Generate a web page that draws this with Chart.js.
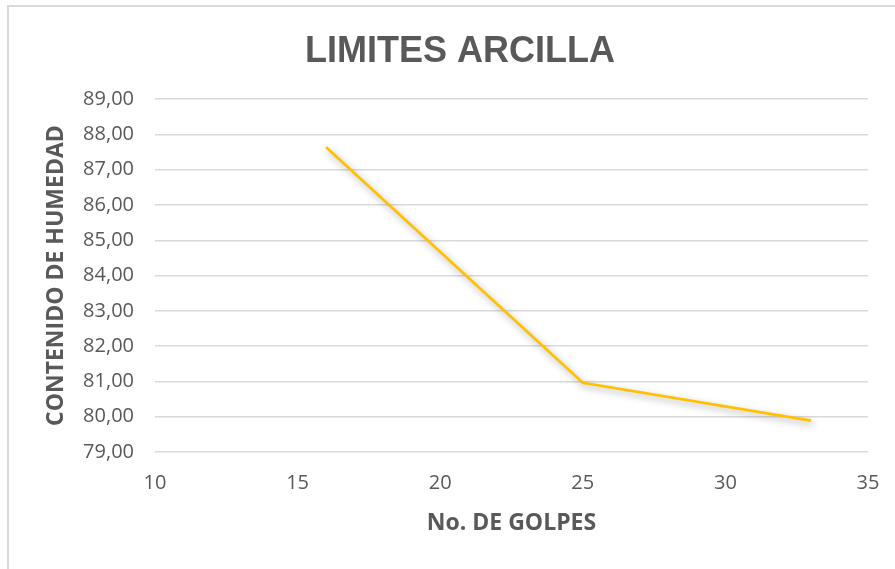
<!DOCTYPE html>
<html>
<head>
<meta charset="utf-8">
<script src="https://cdn.jsdelivr.net/npm/chart.js@4"></script>
<style>
  html, body { margin: 0; padding: 0; background: #ffffff; }
  #wrap { position: relative; width: 895px; height: 569px; }
</style>
</head>
<body>
<div id="wrap"><canvas id="c" width="895" height="569"></canvas></div>
<script>
// ---- data ----
const golpes = [16, 25, 33];
const humedad = [87.64, 80.96, 79.89];
const yTicks = [79, 80, 81, 82, 83, 84, 85, 86, 87, 88, 89];
const xTicks = [10, 15, 20, 25, 30, 35];
const chartTitle = 'LIMITES ARCILLA';
const xTitle = 'No. DE GOLPES';
const yTitle = 'CONTENIDO DE HUMEDAD';

const points = golpes.map((g, i) => ({ x: g, y: humedad[i] }));
const GRAY = '#595959';
const GRID = '#d9d9d9';

const frame = {
  id: 'frame',
  beforeDraw(chart) {
    const ctx = chart.ctx;
    ctx.save();
    ctx.strokeStyle = GRID;
    ctx.lineWidth = 2;
    ctx.beginPath();
    ctx.moveTo(8, 569);
    ctx.lineTo(8, 6);
    ctx.lineTo(895, 6);
    ctx.stroke();
    ctx.restore();
  }
};

const shadow = {
  id: 'shadow',
  beforeDatasetsDraw(chart) {
    const ctx = chart.ctx;
    ctx.save();
    ctx.shadowColor = 'rgba(0,0,0,0.35)';
    ctx.shadowBlur = 7;
    ctx.shadowOffsetX = 2;
    ctx.shadowOffsetY = 3;
  },
  afterDatasetsDraw(chart) {
    chart.ctx.restore();
  }
};

new Chart(document.getElementById('c'), {
  type: 'line',
  data: {
    datasets: [{
      data: points,
      borderColor: '#FFC000',
      borderWidth: 2.7,
      pointRadius: 0,
      pointHoverRadius: 0,
      tension: 0,
      fill: false
    }]
  },
  plugins: [frame, shadow],
  options: {
    responsive: false,
    animation: false,
    layout: { padding: { left: 25, right: 0, top: 0, bottom: 0 } },
    plugins: {
      legend: { display: false },
      tooltip: { enabled: false },
      title: {
        display: true,
        text: chartTitle,
        color: GRAY,
        font: { family: '"Liberation Sans", Arial, sans-serif', size: 36, weight: 'bold', lineHeight: 1.2 },
        padding: { top: 30, bottom: 26 }
      }
    },
    scales: {
      x: {
        type: 'linear',
        min: xTicks[0],
        max: xTicks[xTicks.length - 1],
        afterBuildTicks(scale) { scale.ticks = xTicks.map(v => ({ value: v })); },
        afterFit(scale) { scale.height = 117; scale.paddingRight = 27; },
        grid: { display: false, drawTicks: false },
        border: { display: false },
        ticks: {
          color: GRAY,
          padding: 19,
          maxRotation: 0,
          font: { family: '"Open Sans", sans-serif', size: 20 }
        },
        title: {
          display: true,
          text: xTitle,
          color: GRAY,
          font: { family: '"Open Sans", sans-serif', size: 23, weight: 'bold', lineHeight: 1.2 },
          padding: { top: 0, bottom: 32 }
        }
      },
      y: {
        type: 'linear',
        min: yTicks[0],
        max: yTicks[yTicks.length - 1],
        afterBuildTicks(scale) { scale.ticks = yTicks.map(v => ({ value: v })); },
        afterFit(scale) { scale.width = 130; },
        grid: { color: GRID, lineWidth: 1.5, drawTicks: false },
        border: { display: false },
        ticks: {
          color: GRAY,
          padding: 21,
          font: { family: '"Open Sans", sans-serif', size: 20 },
          callback: v => v.toFixed(2).replace('.', ',')
        },
        title: {
          display: true,
          text: yTitle,
          color: GRAY,
          font: { family: '"Open Sans", sans-serif', size: 23, weight: 'bold', lineHeight: 1.2 },
          padding: { top: 18, bottom: 0 }
        }
      }
    }
  }
});
</script>
</body>
</html>
